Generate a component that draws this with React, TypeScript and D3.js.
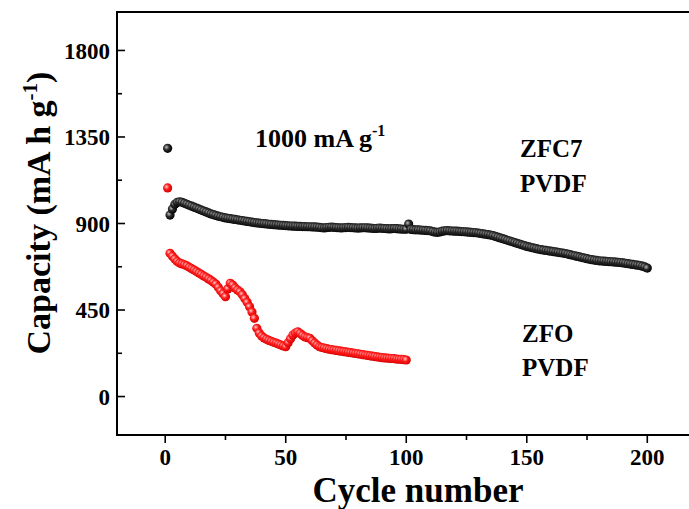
import React from "react";
import * as d3 from "d3";

const zfc7Values: number[] = [
  1291, 944, 975, 1000, 1010, 1013, 1010, 1005, 1000, 995,
  990, 985, 980, 975, 970, 965, 960, 955, 950, 946,
  942, 938, 935, 932, 929, 927, 925, 923, 921, 919,
  917, 915, 913, 911, 909, 907, 905, 903, 902, 900,
  899, 898, 896, 895, 894, 893, 892, 891, 890, 889,
  888, 887, 886, 886, 885, 885, 884, 884, 883, 883,
  882, 882, 881, 880, 878, 877, 879, 880, 881, 880,
  879, 878, 877, 878, 879, 880, 879, 878, 877, 876,
  877, 878, 878, 877, 876, 875, 874, 875, 876, 875,
  874, 873, 872, 873, 874, 873, 872, 871, 870, 870,
  897, 869, 868, 867, 867, 866, 865, 864, 863, 862,
  858, 855, 854, 856, 860, 862, 863, 862, 861, 860,
  860, 859, 858, 857, 856, 855, 854, 853, 852, 850,
  848, 846, 844, 842, 840, 837, 833, 829, 825, 821,
  817, 813, 809, 805, 801, 797, 793, 789, 785, 781,
  778, 775, 772, 769, 766, 764, 762, 760, 758, 756,
  754, 752, 750, 748, 746, 744, 741, 738, 735, 732,
  729, 726, 723, 720, 717, 714, 712, 710, 708, 706,
  705, 704, 703, 702, 701, 700, 699, 698, 697, 695,
  693, 691, 689, 687, 685, 683, 681, 678, 674, 668,
];

const zfoValues: number[] = [
  1085, 745, 730, 715, 703, 694, 690, 685, 680, 672,
  665, 658, 650, 642, 635, 627, 620, 612, 604, 595,
  585, 568, 550, 535, 519, 560, 589, 580, 565, 554,
  545, 530, 510, 490, 467, 440, 407, 355, 330, 315,
  305, 298, 292, 287, 282, 278, 273, 268, 263, 259,
  280, 300, 320, 330, 337, 328, 318, 310, 306, 303,
  290, 278, 268, 259, 255, 252, 249, 246, 244, 242,
  240, 238, 236, 234, 232, 230, 228, 226, 224, 222,
  220, 218, 216, 214, 212, 210, 208, 206, 204, 202,
  201, 200, 199, 198, 197, 195, 194, 193, 192, 190,
];

const xMajorTicks = [0, 50, 100, 150, 200];
const xMinorTicks = [25, 75, 125, 175];
const yMajorTicks = [0, 450, 900, 1350, 1800];
const yMinorTicks = [225, 675, 1125, 1575];

const W = 689;
const H = 509;
const left = 117;
const right = 695.5;
const top = 12;
const bottom = 435;

export default function App() {
  const x = d3.scaleLinear().domain([-20, 220]).range([left, right]);
  const y = d3.scaleLinear().domain([-200, 2000]).range([bottom, top]);
  const font = "'Liberation Serif', 'Times New Roman', serif";
  const r = 4.6;

  return (
    <svg
      width={W}
      height={H}
      style={{ position: "absolute", left: 0, top: 0, background: "#fff" }}
    >
      <defs>
        <radialGradient id="gBlack" cx="38%" cy="38%" r="65%">
          <stop offset="0%" stopColor="#bdbdbd" />
          <stop offset="45%" stopColor="#2a2a2a" />
          <stop offset="100%" stopColor="#000" />
        </radialGradient>
        <radialGradient id="gRed" cx="38%" cy="38%" r="65%">
          <stop offset="0%" stopColor="#ffd0d0" />
          <stop offset="45%" stopColor="#ff1a1a" />
          <stop offset="100%" stopColor="#d00000" />
        </radialGradient>
        <clipPath id="plotClip">
          <rect x={left} y={top} width={right - left} height={bottom - top} />
        </clipPath>
      </defs>

      <g clipPath="url(#plotClip)">
        {zfc7Values.map((v, i) => (
          <circle key={"b" + i} cx={x(i + 1)} cy={y(v)} r={r} fill="url(#gBlack)" />
        ))}
        {zfoValues.map((v, i) => (
          <circle key={"r" + i} cx={x(i + 1)} cy={y(v)} r={r} fill="url(#gRed)" />
        ))}
      </g>

      <rect
        x={left}
        y={top}
        width={right - left}
        height={bottom - top}
        fill="none"
        stroke="#000"
        strokeWidth={2}
      />

      {yMajorTicks.map((t) => (
        <g key={"ym" + t}>
          <line x1={left} x2={left + 8} y1={y(t)} y2={y(t)} stroke="#000" strokeWidth={1.6} />
          <text
            x={left - 7}
            y={y(t)}
            dy="0.35em"
            textAnchor="end"
            fontFamily={font}
            fontWeight="bold"
            fontSize={23}
          >
            {t}
          </text>
        </g>
      ))}
      {yMinorTicks.map((t) => (
        <line key={"yn" + t} x1={left} x2={left + 5} y1={y(t)} y2={y(t)} stroke="#000" strokeWidth={1.6} />
      ))}

      {xMajorTicks.map((t) => (
        <g key={"xm" + t}>
          <line x1={x(t)} x2={x(t)} y1={bottom} y2={bottom + 8} stroke="#000" strokeWidth={1.6} />
          <text
            x={x(t)}
            y={bottom + 30}
            textAnchor="middle"
            fontFamily={font}
            fontWeight="bold"
            fontSize={23}
          >
            {t}
          </text>
        </g>
      ))}
      {xMinorTicks.map((t) => (
        <line key={"xn" + t} x1={x(t)} x2={x(t)} y1={bottom} y2={bottom + 5} stroke="#000" strokeWidth={1.6} />
      ))}

      <text
        x={418}
        y={502}
        textAnchor="middle"
        fontFamily={font}
        fontWeight="bold"
        fontSize={35}
      >
        Cycle number
      </text>

      <text
        transform={`translate(50, 213) rotate(-90)`}
        textAnchor="middle"
        fontFamily={font}
        fontWeight="bold"
        fontSize={34}
      >
        Capacity (mA h g
        <tspan dy={-13} fontSize={21}>-1</tspan>
        <tspan dy={13}>)</tspan>
      </text>

      <text x={255} y={147} fontFamily={font} fontWeight="bold" fontSize={26}>
        1000 mA g
        <tspan dy={-11} fontSize={16}>-1</tspan>
      </text>

      <text x={520} y={157} fontFamily={font} fontWeight="bold" fontSize={25}>ZFC7</text>
      <text x={520} y={192} fontFamily={font} fontWeight="bold" fontSize={25}>PVDF</text>
      <text x={522} y={342} fontFamily={font} fontWeight="bold" fontSize={25}>ZFO</text>
      <text x={522} y={376} fontFamily={font} fontWeight="bold" fontSize={25}>PVDF</text>
    </svg>
  );
}
